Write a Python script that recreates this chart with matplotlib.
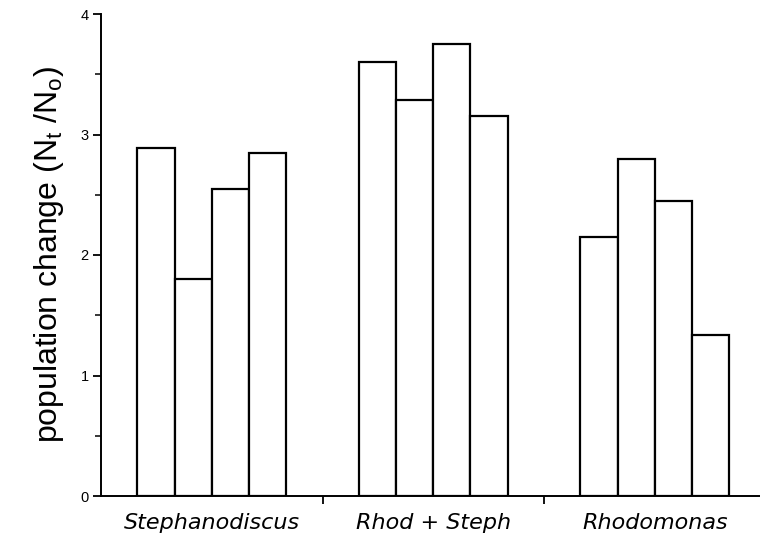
import matplotlib
matplotlib.use("Agg")
import matplotlib.pyplot as plt
import numpy as np

plt.rcParams['font.family'] = ['Liberation Sans', 'DejaVu Sans']
plt.rcParams['mathtext.fontset'] = 'custom'
plt.rcParams['mathtext.rm'] = 'Liberation Sans'
plt.rcParams['mathtext.it'] = 'Liberation Sans'

categories = ["Stephanodiscus", "Rhod + Steph", "Rhodomonas"]
values = [
    [2.89, 1.80, 2.545, 2.85],
    [3.60, 3.29, 3.75, 3.15],
    [2.15, 2.80, 2.45, 1.335],
]
y_ticks = [0, 1, 2, 3, 4]

fig = plt.figure(figsize=(7.6, 5.37), dpi=100)
ax = fig.add_axes([101/760, 41/537, 664.5/760, 482/537])

width = 0.168
for gi, vals in enumerate(values):
    center = gi + 0.5
    n = len(vals)
    xs = center + (np.arange(n) - (n - 1) / 2) * width
    ax.bar(xs, vals, width=width, facecolor='white', edgecolor='black',
           linewidth=1.6, zorder=2)

ax.set_xlim(0, 3)
ax.set_ylim(0, 4)
ax.spines['top'].set_visible(False)
ax.spines['right'].set_visible(False)
for s in ['left', 'bottom']:
    ax.spines[s].set_linewidth(1.4)

ax.set_yticks(y_ticks)
ax.set_yticklabels([str(t) for t in y_ticks], fontsize=10.5)
ax.set_yticks(np.arange(0.5, 4, 1.0), minor=True)
ax.tick_params(axis='y', which='major', length=6, width=1.3, pad=3)
ax.tick_params(axis='y', which='minor', length=4.5, width=1.1)

ax.set_xticks([1, 2])
ax.set_xticklabels([])
ax.set_xticks([0.5, 1.5, 2.5], minor=True)
ax.set_xticklabels(categories, minor=True, fontsize=16, style='italic',
                   family=['DejaVu Sans'])
ax.tick_params(axis='x', which='major', length=6, width=1.3)
ax.tick_params(axis='x', which='minor', length=0, pad=12)

ax.set_ylabel(r'population change (N$_t$ /N$_o$)', fontsize=23, labelpad=10)

fig.savefig('out.png', dpi=100)
